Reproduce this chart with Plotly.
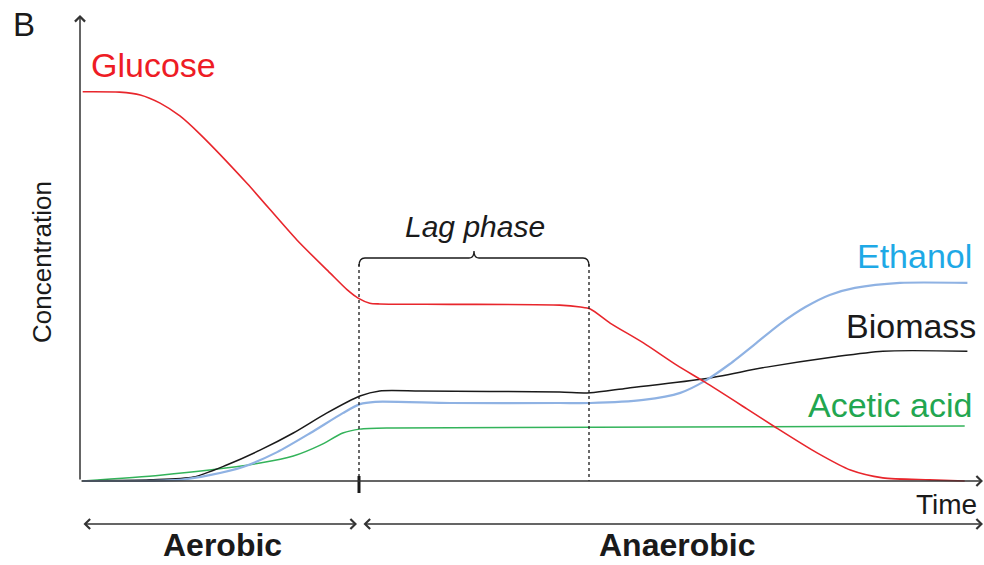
import plotly.graph_objects as go

# ---------------- data (time in arbitrary units 0-100, concentration 0-100) ----------------
time_glucose = [0.3, 4.4, 6.7, 8.9, 11.1, 13.3, 18.6, 24.1, 27.8, 29.7, 30.9, 32.2, 33.3, 41.1, 53.3,
                55.6, 56.7, 58.9, 62.6, 66.3, 69.4, 74.1, 77.4, 81.9, 85.6, 89.2, 94.4, 98.3]
glucose = [99.8, 99.7, 99.0, 96.9, 93.6, 89.0, 76.2, 61.8, 53.3, 49.0, 46.9, 45.6, 45.4, 45.3, 45.1,
           44.6, 44.1, 40.5, 35.4, 29.7, 25.4, 18.5, 13.6, 7.2, 2.8, 0.8, 0.3, 0]

time_ethanol = [0.3, 11.1, 14.4, 18.1, 21.9, 25.6, 29.2, 31.1, 32.8, 41.1, 53.3, 56.7, 62.6,
                66.7, 69.4, 72.2, 75.0, 77.8, 80.6, 83.3, 86.1, 91.1, 98.6]
ethanol = [0, 0.3, 1.5, 3.6, 7.4, 12.3, 17.4, 19.7, 20.3, 20.0, 20.0, 20.0, 20.8,
           22.6, 25.6, 30.0, 35.1, 40.3, 44.6, 47.7, 49.5, 50.8, 50.8]

time_biomass = [0.3, 7.8, 12.6, 16.3, 20.0, 23.7, 27.4, 31.1, 33.3, 37.8, 53.3, 56.7, 60.8,
                69.4, 76.3, 83.7, 89.2, 98.6]
biomass = [0, 0.3, 1.0, 4.1, 7.9, 12.3, 17.4, 21.8, 23.1, 23.1, 22.8, 22.6, 23.8,
           26.2, 29.2, 31.8, 33.3, 33.3]

time_acetic = [0.3, 8.9, 14.4, 20.0, 23.7, 26.7, 29.2, 31.1, 34.8, 98.3]
acetic = [0, 1.5, 2.8, 4.6, 6.4, 9.2, 12.3, 13.3, 13.6, 14.1]

series_names = ["Glucose", "Ethanol", "Biomass", "Acetic acid"]
phase_labels = ["Aerobic", "Anaerobic"]
lag_label = "Lag phase"
x_title = "Time"
y_title = "Concentration"
panel_label = "B"

# ---------------- layout helpers ----------------
W, H = 984, 565
FONT = "Liberation Sans, Arial, sans-serif"


def px(x):
    return x / W


def py(y):
    return 1 - y / H


RED_LINE = "#e8262c"
RED_TXT = "#ee1c25"
BLUE_LINE = "#8fb2e3"
BLUE_TXT = "#1ea9e6"
BLACK = "#1a1a1a"
GREEN_LINE = "#33b35a"
GREEN_TXT = "#22a650"
AXIS = "#333333"

fig = go.Figure()

for tx, ty, col, w in [
    (time_acetic, acetic, GREEN_LINE, 1.5),
    (time_biomass, biomass, BLACK, 1.5),
    (time_ethanol, ethanol, BLUE_LINE, 2.2),
    (time_glucose, glucose, RED_LINE, 1.6),
]:
    fig.add_trace(go.Scatter(x=tx, y=ty, mode="lines",
                             line=dict(color=col, width=w, shape="spline", smoothing=0.7),
                             hoverinfo="skip", showlegend=False))

shapes = []
# dashed lag-phase boundaries
for xx in (359, 589):
    shapes.append(dict(type="line", xref="paper", yref="paper",
                       x0=px(xx), x1=px(xx), y0=py(264), y1=py(481),
                       line=dict(color=BLACK, width=1.3, dash="3px,3px")))


def P(x, y):
    return f"{px(x):.5f},{py(y):.5f}"


# bracket above the lag phase
path = ("M" + P(359, 266) + " Q" + P(359, 258) + " " + P(365, 258) +
        " L" + P(469, 258) + " Q" + P(474, 258) + " " + P(474, 251) +
        " Q" + P(474, 258) + " " + P(479, 258) +
        " L" + P(583, 258) + " Q" + P(589, 258) + " " + P(589, 266))
shapes.append(dict(type="path", xref="paper", yref="paper", path=path,
                   line=dict(color=BLACK, width=1.3)))
# tick on time axis
shapes.append(dict(type="line", xref="paper", yref="paper",
                   x0=px(359), x1=px(359), y0=py(476), y1=py(493),
                   line=dict(color=BLACK, width=3)))

annotations = []


def arrow(hx, hy, tx, ty, both=False):
    d = dict(xref="paper", yref="paper", x=px(hx), y=py(hy), ax=tx - hx, ay=ty - hy,
             axref="pixel", ayref="pixel", text="", showarrow=True,
             arrowhead=4, arrowsize=1.3, arrowwidth=1.5, arrowcolor=AXIS, standoff=0)
    if both:
        d.update(arrowside="end+start", startarrowhead=4, startarrowsize=1.3, startstandoff=0)
    return d


annotations.append(arrow(80, 15, 80, 481))
annotations.append(arrow(983, 481, 80, 481))
annotations.append(arrow(357, 524, 82, 524, both=True))
annotations.append(arrow(983, 524, 362, 524, both=True))


def label(text, x, y, size, color=BLACK, xanchor="center", bold=False, italic=False, angle=0):
    t = text
    if bold:
        t = f"<b>{t}</b>"
    if italic:
        t = f"<i>{t}</i>"
    return dict(xref="paper", yref="paper", x=px(x), y=py(y), text=t, showarrow=False,
                xanchor=xanchor, yanchor="middle", textangle=angle,
                font=dict(family=FONT, size=size, color=color))


annotations += [
    label(panel_label, 24, 24, 33),
    label(series_names[0], 89, 65, 34, RED_TXT, "left"),
    label(series_names[1], 974, 256, 34, BLUE_TXT, "right"),
    label(series_names[2], 978, 326, 34, BLACK, "right"),
    label(series_names[3], 974, 405, 34, GREEN_TXT, "right"),
    label(lag_label, 475, 226, 30, BLACK, italic=True),
    label(x_title, 946, 504, 28),
    label(y_title, 42, 262, 26, angle=-90),
    label(phase_labels[0], 222, 545, 32, bold=True),
    label(phase_labels[1], 677, 545, 32, bold=True),
]

fig.update_layout(
    width=W, height=H, autosize=False,
    margin=dict(l=0, r=0, t=0, b=0, pad=0),
    paper_bgcolor="white", plot_bgcolor="white",
    xaxis=dict(visible=False, range=[-80 / 9, (W - 80) / 9], fixedrange=True),
    yaxis=dict(visible=False, range=[(481 - H) / 3.9, 481 / 3.9], fixedrange=True),
    shapes=shapes, annotations=annotations, showlegend=False,
)

fig.write_html("out.html", config={"displayModeBar": False},
               post_script="document.body.style.margin='0';document.body.style.overflow='hidden';")
